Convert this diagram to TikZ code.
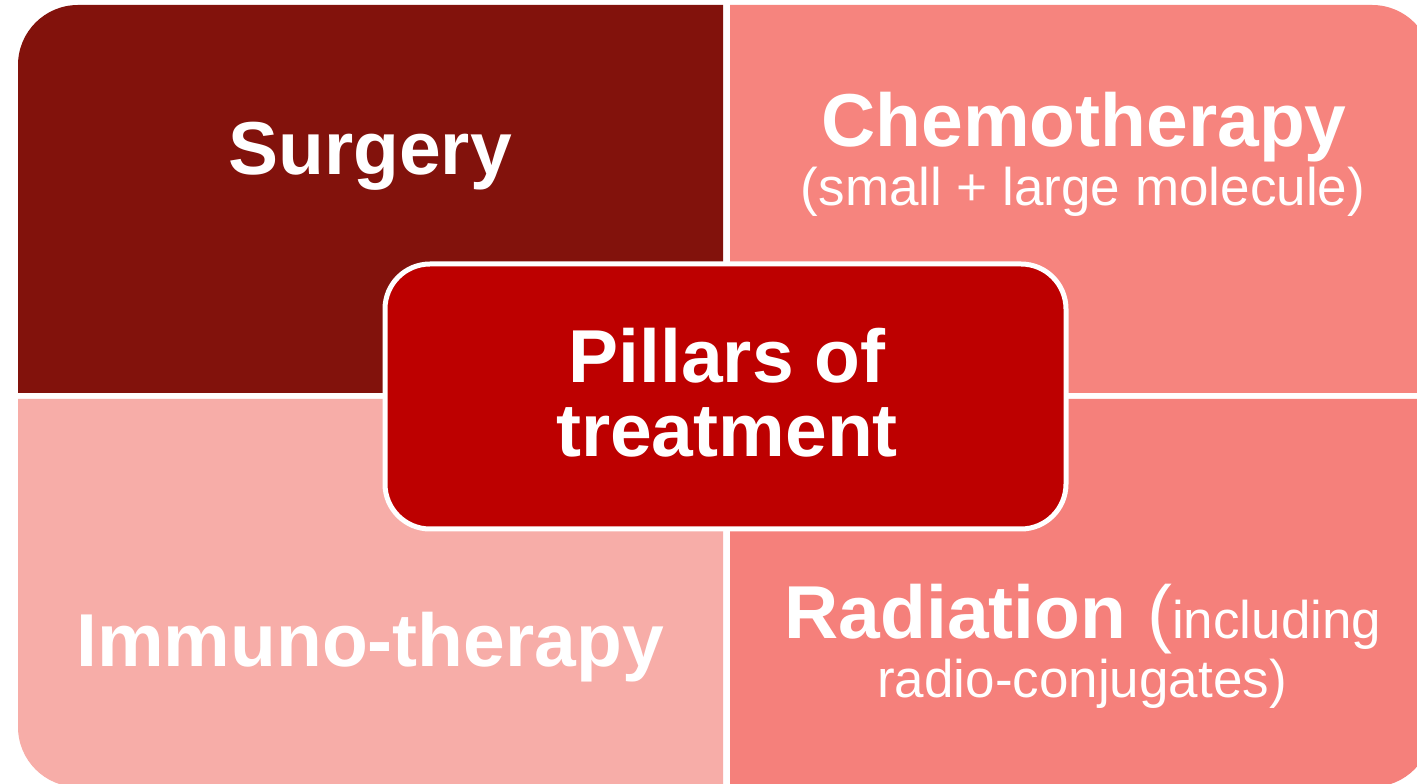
\documentclass[tikz,border=0pt]{standalone}
\usepackage{fontspec}
\setmainfont{Liberation Sans}
\definecolor{qdark}{HTML}{82120C}
\definecolor{qtr}{HTML}{F6847E}
\definecolor{qbr}{HTML}{F5807B}
\definecolor{qbl}{HTML}{F7ADA8}
\definecolor{qcenter}{HTML}{BD0000}
\tikzset{
  bigb/.style={inner sep=0pt, anchor=base, text=white, font=\fontsize{75}{75}\selectfont\bfseries},
  smallr/.style={inner sep=0pt, anchor=base, text=white, font=\fontsize{53}{53}\selectfont},
  centerbox/.style={draw=white, line width=5pt, fill=qcenter, rounded corners=45pt, minimum width=681pt, minimum height=265pt, inner sep=0pt}
}
\begin{document}
\begin{tikzpicture}[x=1pt,y=1pt]
\useasboundingbox (0,0) rectangle (1417,784);
\fill[white] (0,0) rectangle (1417,784);
\begin{scope}
\clip (0,0) rectangle (1417,784);
% top-left
\fill[qdark] (18,391) -- (18,719) arc[start angle=180, end angle=90, radius=60] -- (723,779) -- (723,391) -- cycle;
% top-right
\fill[qtr] (730,391) -- (730,779) -- (1372,779) arc[start angle=90, end angle=0, radius=60] -- (1432,391) -- cycle;
% bottom-left
\fill[qbl] (18,385) -- (18,57) arc[start angle=180, end angle=270, radius=60] -- (723,-3) -- (723,385) -- cycle;
% bottom-right
\fill[qbr] (730,385) -- (1432,385) -- (1432,57) arc[start angle=0, end angle=-90, radius=60] -- (730,-3) -- cycle;
\end{scope}
\node[centerbox] (center) at (725.5,387.5) {};
\node[bigb] (surgery) at (370,609) {Surgery};
\node[bigb] (chemo) at (1084,637) {Chemotherapy};
\node[smallr] (chemosub) at (1083,578) {(small + large molecule)};
\node[bigb] (pillars) at (727,401) {Pillars of};
\node[bigb] (treat) at (727,327) {treatment};
\node[bigb] (immuno) at (370,117) {Immuno-therapy};
\node[bigb] (radiation) at (1083,145) {Radiation {\mdseries(\fontsize{53}{53}\selectfont including}};
\node[smallr] (radiosub) at (1082,86) {radio-conjugates)};
\end{tikzpicture}
\end{document}
